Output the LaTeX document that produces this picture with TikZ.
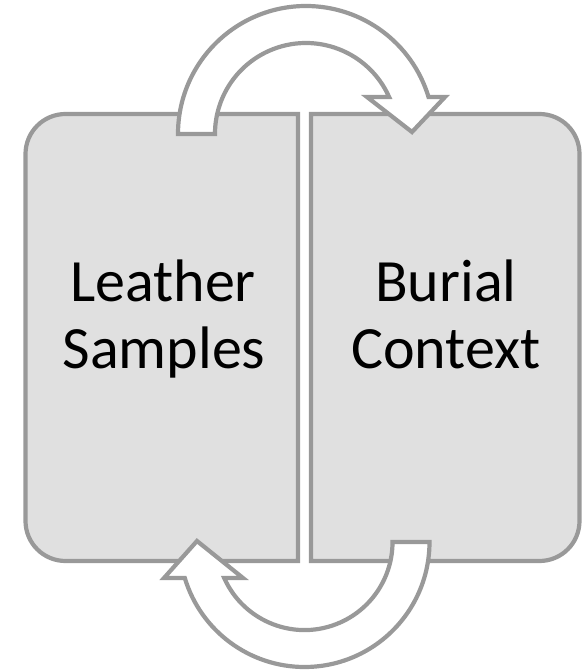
\documentclass[tikz,border=0pt]{standalone}
\usepackage{fontspec}
\setmainfont{Carlito}
\definecolor{edgegray}{HTML}{999999}
\definecolor{boxfill}{HTML}{E0E0E0}
\tikzset{
  panel/.style={draw=edgegray, fill=boxfill, line width=4.2pt, line join=miter},
  cyclearrow/.style={draw=edgegray, fill=white, line width=4.2pt, line join=miter},
  label/.style={anchor=base, font=\fontsize{60}{67}\selectfont, text=black, inner sep=0pt}
}
\begin{document}
\begin{tikzpicture}[x=1pt,y=1pt]
\useasboundingbox (0,0) rectangle (582,670);
% left box
\path[panel] (298,109) -- (65.5,109) arc[start angle=270,end angle=180,radius=40]
  -- (25.5,516) arc[start angle=180,end angle=90,radius=40] -- (298,556) -- cycle;
% right box
\path[panel] (311,109) -- (539.5,109) arc[start angle=270,end angle=360,radius=40]
  -- (579.5,516) arc[start angle=0,end angle=90,radius=40] -- (311,556) -- cycle;
% top arrow
\path[cyclearrow] (178,536) arc[start angle=180,end angle=16.8,radius=128]
  -- (445,573) -- (412,538) -- (367,573) -- (389.1,573)
  arc[start angle=24.0,end angle=180,radius=91] -- cycle;
% bottom arrow
\path[cyclearrow] (429.5,128) arc[start angle=0,end angle=-163.3,radius=125]
  -- (164,92) -- (197,129) -- (243,92) -- (224.2,92)
  arc[start angle=-155.9,end angle=0,radius=88] -- cycle;
% labels
\node[label] (leather) at (163,368) {Leather};
\node[label] (samples) at (164,301) {Samples};
\node[label] (burial) at (446,368) {Burial};
\node[label] (context) at (446,301) {Context};
\end{tikzpicture}
\end{document}
